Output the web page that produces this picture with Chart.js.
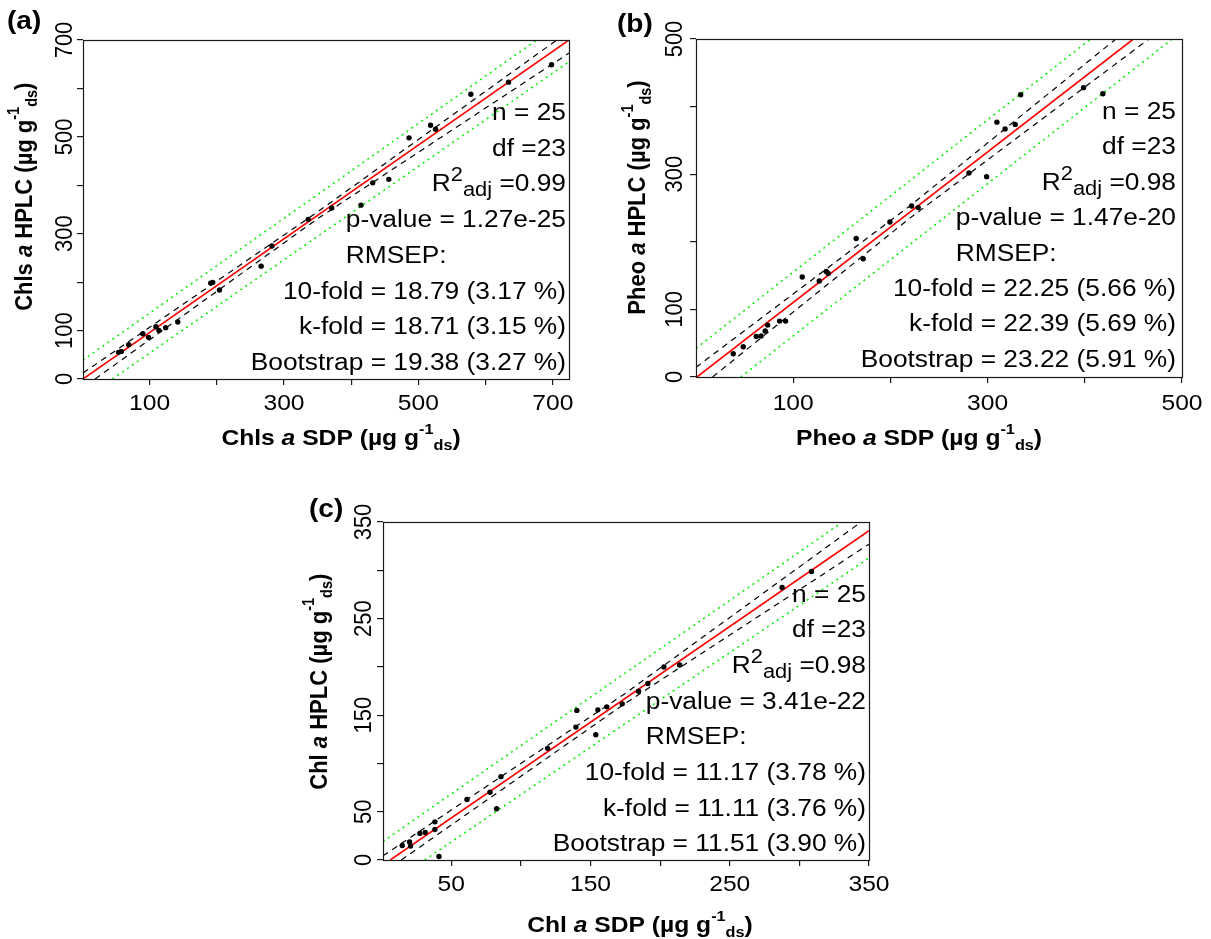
<!DOCTYPE html>
<html>
<head>
<meta charset="utf-8">
<script src="https://cdn.jsdelivr.net/npm/chart.js@4.4.1/dist/chart.umd.min.js"></script>
<style>
  html, body { margin: 0; padding: 0; background: #fff; }
  #wrap { position: relative; width: 1211px; height: 939px; overflow: hidden; }
  canvas { position: absolute; left: 0; top: 0; }
</style>
</head>
<body>
<div id="wrap">
  <canvas id="cA" width="1211" height="939"></canvas>
  <canvas id="cB" width="1211" height="939"></canvas>
  <canvas id="cC" width="1211" height="939"></canvas>
</div>
<script>
/* ============ DATA : (a) Chls a ============ */
const chlsSdp  = [54, 58, 69, 90, 98.5, 109.5, 114, 124, 142, 191, 194, 204, 266, 282, 336, 371, 414.5, 432, 456, 486, 518, 525.5, 578, 634, 698];
const chlsHplc = [55, 57, 70.8, 93.5, 86, 108, 100, 106, 117.7, 198, 199.6, 183.8, 233, 274.6, 329.7, 353, 359, 405, 412.3, 498, 524, 515.6, 588, 613, 649];
const chlsFitX = [1, 724],          chlsFitY = [0, 700];
const chlsCiUpX = [1, 350, 706],    chlsCiUpY = [12.4, 345, 700];
const chlsCiLoX = [19, 350, 724],   chlsCiLoY = [0, 331, 673];
const chlsPiUpX = [1, 676],         chlsPiUpY = [39, 700];
const chlsPiLoX = [44.6, 724],      chlsPiLoY = [0, 655];
const chlsXTicks = [100, 200, 300, 400, 500, 600, 700], chlsXLabels = [100, 300, 500, 700];
const chlsYTicks = [0, 100, 200, 300, 400, 500, 600, 700], chlsYLabels = [0, 100, 300, 500, 700];
const chlsR2 = "0.99", chlsP = "1.27e-25";
const chlsRmsep = ["10-fold = 18.79 (3.17 %)", "k-fold = 18.71 (3.15 %)", "Bootstrap = 19.38 (3.27 %)"];

/* ============ DATA : (b) Pheo a ============ */
const pheoSdp  = [38.3, 48.6, 62, 67, 71.2, 73.7, 86, 92.2, 109.3, 126.8, 134, 136, 164.8, 172, 199.5, 221.8, 228.6, 280.8, 299, 309.6, 318, 328.4, 334, 398.7, 418.6];
const pheoHplc = [34.4, 44.8, 60, 60.6, 68, 76.8, 82.7, 82.7, 148, 142, 156, 153, 204.8, 175, 229.4, 253, 250.6, 301.8, 296.4, 377, 367, 373.7, 417.6, 428, 419];
const pheoFitX = [1, 450],          pheoFitY = [0, 500];
const pheoCiUpX = [0, 220, 432],    pheoCiUpY = [14.3, 253, 500];
const pheoCiLoX = [17, 220, 466],   pheoCiLoY = [0, 235, 500];
const pheoPiUpX = [0, 406],         pheoPiUpY = [42.4, 500];
const pheoPiLoX = [46, 490],        pheoPiLoY = [0, 500];
const pheoXTicks = [100, 200, 300, 400, 500], pheoXLabels = [100, 300, 500];
const pheoYTicks = [0, 100, 200, 300, 400, 500], pheoYLabels = [0, 100, 300, 500];
const pheoR2 = "0.98", pheoP = "1.47e-20";
const pheoRmsep = ["10-fold = 22.25 (5.66 %)", "k-fold = 22.39 (5.69 %)", "Bootstrap = 23.22 (5.91 %)"];

/* ============ DATA : (c) Chl a ============ */
const chlSdp  = [14.8, 20.1, 20.8, 27.5, 31.3, 38.3, 38.3, 41.2, 61.3, 77.8, 82.6, 85.7, 119.2, 139.5, 140.2, 153.8, 155.3, 161.7, 172.8, 184.5, 191.2, 202.7, 214, 287.6, 308.7];
const chlHplc = [15, 18.6, 14.4, 27.5, 28.5, 39.5, 31.6, 3.7, 62.6, 70.2, 53, 86.3, 115.6, 137.6, 154.9, 129.7, 155.5, 158.6, 161.7, 174.8, 182.7, 199.9, 202, 282.2, 298.7];
const chlFitX = [6.2, 350],         chlFitY = [0, 341];
const chlCiUpX = [1, 175, 344.4],   chlCiUpY = [4.4, 172.5, 350];
const chlCiLoX = [14.1, 175, 350],  chlCiLoY = [0, 162.3, 327];
const chlPiUpX = [1, 331],          chlPiUpY = [19.2, 350];
const chlPiLoX = [30.9, 350],       chlPiLoY = [0, 312.8];
const chlXTicks = [50, 100, 150, 200, 250, 300, 350], chlXLabels = [50, 150, 250, 350];
const chlYTicks = [0, 50, 100, 150, 200, 250, 300, 350], chlYLabels = [0, 50, 150, 250, 350];
const chlR2 = "0.98", chlP = "3.41e-22";
const chlRmsep = ["10-fold = 11.17 (3.78 %)", "k-fold = 11.11 (3.76 %)", "Bootstrap = 11.51 (3.90 %)"];

const nObs = 25, dfRes = 23;

/* ============ HELPERS ============ */
const FAM = "'Liberation Sans', Arial, Helvetica, sans-serif";
const SX = 1.12; // picture is a little wider than tall
const fnt = (size, bold, italic) => (italic ? "italic " : "") + (bold ? "bold " : "") + size + "px " + FAM;
const zip = (xs, ys) => xs.map((x, i) => ({ x, y: ys[i] }));

function segWidth(ctx, segs) {
  let w = 0;
  segs.forEach(s => { ctx.font = s.font; w += ctx.measureText(s.text).width; });
  return w;
}
function putText(ctx, segs, x, y, align, rot) {
  ctx.save();
  ctx.translate(x, y);
  ctx.scale(SX, 1);
  if (rot) ctx.rotate(-Math.PI / 2);
  ctx.textBaseline = "alphabetic";
  ctx.textAlign = "left";
  const w = segWidth(ctx, segs);
  let cx = align === "center" ? -w / 2 : align === "right" ? -w : 0;
  segs.forEach(s => {
    ctx.font = s.font;
    ctx.fillText(s.text, cx, s.dy || 0);
    cx += ctx.measureText(s.text).width;
  });
  ctx.restore();
}
function titleSegs(name) {
  return [
    { text: name + " ", font: fnt(22, true) },
    { text: "a", font: fnt(22, true, true) },
    { text: " " + "SDP (µg g", font: fnt(22, true) },
    { text: "-1", font: fnt(14.5, true), dy: -11 },
    { text: "ds", font: fnt(14.5, true), dy: 5 },
    { text: ")", font: fnt(22, true) }
  ];
}
function yTitleSegs(name) {
  const s = titleSegs(name);
  s[2].text = " HPLC (µg g";
  return s;
}

/* ============ PLUGIN : box, labels, stats ============ */
function decoPlugin(p) {
  return {
    id: "deco",
    afterDraw(chart) {
      const ctx = chart.ctx, a = chart.chartArea;
      const xs = chart.scales.x, ys = chart.scales.y;
      ctx.save();
      ctx.strokeStyle = "#1a1a1a";
      ctx.lineWidth = 1.2;
      ctx.strokeRect(Math.round(a.left) + 0.5, Math.round(a.top) + 0.5,
                     Math.round(a.right - a.left), Math.round(a.bottom - a.top));
      ctx.fillStyle = "#000";

      // tick labels
      p.xLabels.forEach(v => putText(ctx, [{ text: String(v), font: fnt(22) }], xs.getPixelForValue(v), p.xLabBase, "center"));
      p.yLabels.forEach(v => putText(ctx, [{ text: String(v), font: fnt(22) }], p.yLabBase, ys.getPixelForValue(v), "center", true));

      // axis titles
      putText(ctx, titleSegs(p.name), p.xTitle[0], p.xTitle[1], "center");
      putText(ctx, yTitleSegs(p.name), p.yTitle[0], p.yTitle[1], "center", true);

      // panel tag
      putText(ctx, [{ text: p.tag[0], font: fnt(25, true) }], p.tag[1], p.tag[2], "left");

      // statistics block
      const F = fnt(23.5), FS = fnt(19.5);
      const R = p.stats[0];
      let y = p.stats[1];
      const st = p.stats[2];
      putText(ctx, [{ text: "n = " + nObs, font: F }], R, y, "right"); y += st;
      putText(ctx, [{ text: "df =" + dfRes, font: F }], R, y, "right"); y += st;
      putText(ctx, [
        { text: "R", font: F },
        { text: "2", font: FS, dy: -10 },
        { text: "adj", font: FS, dy: 5 },
        { text: " =" + p.r2, font: F }
      ], R, y, "right"); y += st;
      const pLine = [{ text: "p-value = " + p.pv, font: F }];
      putText(ctx, pLine, R, y, "right"); y += st;
      ctx.font = F;
      const leftP = R - SX * ctx.measureText(pLine[0].text).width;
      putText(ctx, [{ text: "RMSEP:", font: F }], leftP, y, "left"); y += st;
      p.rmsep.forEach(t => { putText(ctx, [{ text: t, font: F }], R, y, "right"); y += st; });
      ctx.restore();
    }
  };
}

/* ============ CHART ============ */
function makePanel(id, p) {
  const lineDs = (xs, ys, color, width, dash) => ({
    data: zip(xs, ys), showLine: true, borderColor: color, borderWidth: width,
    borderDash: dash, pointRadius: 0, fill: false, clip: 0, tension: 0
  });
  const axis = (min, max, ticks) => ({
    type: "linear", min, max,
    afterBuildTicks(s) { s.ticks = ticks.map(v => ({ value: v })); },
    afterFit(s) { s.width = s.isHorizontal() ? s.width : 0; if (s.isHorizontal()) s.height = 0;
                  s.paddingLeft = 0; s.paddingRight = 0; s.paddingTop = 0; s.paddingBottom = 0; },
    ticks: { display: false, autoSkip: false },
    grid: { drawOnChartArea: false, drawTicks: true, tickLength: 6, color: "#1a1a1a", lineWidth: 1.2 },
    border: { display: false }
  });
  return new Chart(document.getElementById(id), {
    type: "scatter",
    data: {
      datasets: [
        { data: zip(p.x, p.y), pointRadius: 2.7, pointBackgroundColor: "#000", pointBorderWidth: 0, showLine: false },
        lineDs(p.fit[0], p.fit[1], "#ff0000", 1.6, []),
        lineDs(p.ciUp[0], p.ciUp[1], "#000", 1.2, [6, 5]),
        lineDs(p.ciLo[0], p.ciLo[1], "#000", 1.2, [6, 5]),
        lineDs(p.piUp[0], p.piUp[1], "#00ee00", 1.5, [2, 4]),
        lineDs(p.piLo[0], p.piLo[1], "#00ee00", 1.5, [2, 4])
      ]
    },
    options: {
      responsive: false, animation: false, devicePixelRatio: 1,
      layout: { padding: { left: p.box[0], top: p.box[1], right: 1211 - p.box[2], bottom: 939 - p.box[3] } },
      plugins: { legend: { display: false }, tooltip: { enabled: false } },
      scales: { x: axis(p.xr[0], p.xr[1], p.xTicks), y: axis(p.yr[0], p.yr[1], p.yTicks) }
    },
    plugins: [decoPlugin(p)]
  });
}

makePanel("cA", {
  name: "Chls", x: chlsSdp, y: chlsHplc,
  fit: [chlsFitX, chlsFitY], ciUp: [chlsCiUpX, chlsCiUpY], ciLo: [chlsCiLoX, chlsCiLoY],
  piUp: [chlsPiUpX, chlsPiUpY], piLo: [chlsPiLoX, chlsPiLoY],
  xr: [1, 724], yr: [0, 700], xTicks: chlsXTicks, yTicks: chlsYTicks, xLabels: chlsXLabels, yLabels: chlsYLabels,
  box: [83, 40, 569, 379], xLabBase: 410, yLabBase: 71.7,
  xTitle: [341, 445], yTitle: [31.7, 196.7], tag: ["(a)", 7, 28.5],
  stats: [566, 120, 35.7], r2: chlsR2, pv: chlsP, rmsep: chlsRmsep
});
makePanel("cB", {
  name: "Pheo", x: pheoSdp, y: pheoHplc,
  fit: [pheoFitX, pheoFitY], ciUp: [pheoCiUpX, pheoCiUpY], ciLo: [pheoCiLoX, pheoCiLoY],
  piUp: [pheoPiUpX, pheoPiUpY], piLo: [pheoPiLoX, pheoPiLoY],
  xr: [0, 500], yr: [0, 500], xTicks: pheoXTicks, yTicks: pheoYTicks, xLabels: pheoXLabels, yLabels: pheoYLabels,
  box: [696, 39, 1182, 377], xLabBase: 410, yLabBase: 681.7,
  xTitle: [919, 445], yTitle: [645, 197.5], tag: ["(b)", 617, 31.5],
  stats: [1176, 119, 35.4], r2: pheoR2, pv: pheoP, rmsep: pheoRmsep
});
makePanel("cC", {
  name: "Chl", x: chlSdp, y: chlHplc,
  fit: [chlFitX, chlFitY], ciUp: [chlCiUpX, chlCiUpY], ciLo: [chlCiLoX, chlCiLoY],
  piUp: [chlPiUpX, chlPiUpY], piLo: [chlPiLoX, chlPiLoY],
  xr: [1, 350], yr: [0, 350], xTicks: chlXTicks, yTicks: chlYTicks, xLabels: chlXLabels, yLabels: chlYLabels,
  box: [383, 522, 869, 860], xLabBase: 891, yLabBase: 370.7,
  xTitle: [640, 931.5], yTitle: [326.7, 681.7], tag: ["(c)", 309, 516.7],
  stats: [866, 601.5, 35.7], r2: chlR2, pv: chlP, rmsep: chlRmsep
});
</script>
</body>
</html>
